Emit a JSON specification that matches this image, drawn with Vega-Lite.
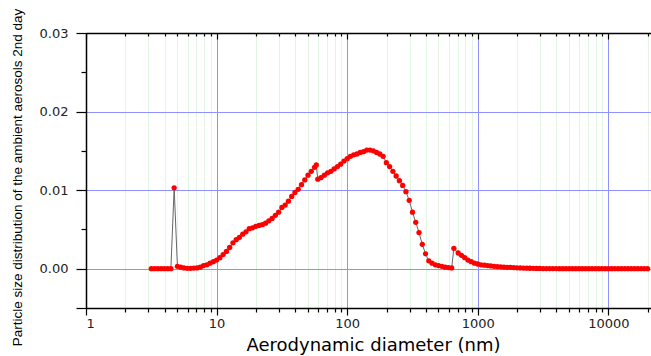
{
  "$schema": "https://vega.github.io/schema/vega-lite/v6.json",
  "width": 565,
  "height": 275,
  "autosize": "none",
  "padding": {"left": 86, "top": 33, "right": 0, "bottom": 48},
  "background": "white",
  "config": {
    "view": {"stroke": null},
    "axis": {
      "labelFont": "DejaVu Sans",
      "labelFontSize": 13,
      "labelColor": "#222",
      "titleFont": "DejaVu Sans",
      "titleColor": "black",
      "titleFontWeight": "normal",
      "domainColor": "black",
      "domainWidth": 1.5,
      "tickColor": "black",
      "tickWidth": 1.2
    }
  },
  "data": {
    "values": [
      {"d": 3.162, "v": 0}, {"d": 3.350, "v": 0}, {"d": 3.548, "v": 0}, {"d": 3.758, "v": 0},
      {"d": 3.981, "v": 0}, {"d": 4.217, "v": 0}, {"d": 4.467, "v": 0}, {"d": 4.732, "v": 0.0103},
      {"d": 5.012, "v": 0.0003}, {"d": 5.309, "v": 0.0002}, {"d": 5.623, "v": 0.0001}, {"d": 5.957, "v": 0.00005},
      {"d": 6.310, "v": 0.00005}, {"d": 6.683, "v": 0.00008}, {"d": 7.079, "v": 0.0001}, {"d": 7.499, "v": 0.0002},
      {"d": 7.943, "v": 0.0004}, {"d": 8.414, "v": 0.0005}, {"d": 8.913, "v": 0.0007}, {"d": 9.441, "v": 0.0009},
      {"d": 10.0, "v": 0.0011}, {"d": 10.59, "v": 0.0014}, {"d": 11.22, "v": 0.0018}, {"d": 11.89, "v": 0.0022},
      {"d": 12.59, "v": 0.0027}, {"d": 13.34, "v": 0.0033}, {"d": 14.13, "v": 0.0037}, {"d": 14.96, "v": 0.004},
      {"d": 15.85, "v": 0.0044}, {"d": 16.79, "v": 0.0047}, {"d": 17.78, "v": 0.0051}, {"d": 18.84, "v": 0.0052},
      {"d": 19.95, "v": 0.0054}, {"d": 21.14, "v": 0.0055}, {"d": 22.39, "v": 0.0056}, {"d": 23.71, "v": 0.0058},
      {"d": 25.12, "v": 0.0061}, {"d": 26.61, "v": 0.0064}, {"d": 28.18, "v": 0.0068}, {"d": 29.85, "v": 0.0072},
      {"d": 31.62, "v": 0.0078}, {"d": 33.50, "v": 0.0081}, {"d": 35.48, "v": 0.0086}, {"d": 37.58, "v": 0.0092},
      {"d": 39.81, "v": 0.0097}, {"d": 42.17, "v": 0.0101}, {"d": 44.67, "v": 0.0107}, {"d": 47.32, "v": 0.0113},
      {"d": 50.12, "v": 0.0119}, {"d": 53.09, "v": 0.0124}, {"d": 56.23, "v": 0.0129}, {"d": 58.0, "v": 0.0132},
      {"d": 59.57, "v": 0.0114}, {"d": 63.10, "v": 0.0116}, {"d": 66.83, "v": 0.0119}, {"d": 70.79, "v": 0.0122},
      {"d": 74.99, "v": 0.0124}, {"d": 79.43, "v": 0.0127}, {"d": 84.14, "v": 0.013}, {"d": 89.13, "v": 0.0133},
      {"d": 94.41, "v": 0.0137}, {"d": 100.0, "v": 0.014}, {"d": 105.9, "v": 0.0143}, {"d": 112.2, "v": 0.0145},
      {"d": 118.9, "v": 0.0146}, {"d": 125.9, "v": 0.0148}, {"d": 133.4, "v": 0.0149}, {"d": 141.3, "v": 0.0151},
      {"d": 149.6, "v": 0.0151}, {"d": 158.5, "v": 0.015}, {"d": 167.9, "v": 0.0148}, {"d": 177.8, "v": 0.0146},
      {"d": 188.4, "v": 0.0143}, {"d": 199.5, "v": 0.0135}, {"d": 211.3, "v": 0.013}, {"d": 223.9, "v": 0.0124},
      {"d": 237.1, "v": 0.0118}, {"d": 251.2, "v": 0.0112}, {"d": 266.1, "v": 0.0106}, {"d": 281.8, "v": 0.0098},
      {"d": 298.5, "v": 0.0087}, {"d": 316.2, "v": 0.0072}, {"d": 335.0, "v": 0.0059}, {"d": 354.8, "v": 0.0046},
      {"d": 375.8, "v": 0.0031}, {"d": 398.1, "v": 0.0019}, {"d": 421.7, "v": 0.001}, {"d": 446.7, "v": 0.0007},
      {"d": 473.2, "v": 0.0005}, {"d": 501.2, "v": 0.0004}, {"d": 530.9, "v": 0.0003}, {"d": 562.3, "v": 0.0002},
      {"d": 595.7, "v": 0.00015}, {"d": 631.0, "v": 0.0001}, {"d": 656.0, "v": 0.0026}, {"d": 707.9, "v": 0.002},
      {"d": 749.9, "v": 0.0017}, {"d": 794.3, "v": 0.0014}, {"d": 841.4, "v": 0.0011}, {"d": 891.3, "v": 0.0009},
      {"d": 944.1, "v": 0.0007}, {"d": 1000, "v": 0.0006}, {"d": 1059, "v": 0.0005}, {"d": 1122, "v": 0.00045},
      {"d": 1189, "v": 0.0004}, {"d": 1259, "v": 0.00035}, {"d": 1334, "v": 0.0003}, {"d": 1413, "v": 0.00027},
      {"d": 1496, "v": 0.00024}, {"d": 1585, "v": 0.0002}, {"d": 1679, "v": 0.00018}, {"d": 1778, "v": 0.00016},
      {"d": 1884, "v": 0.00014}, {"d": 1995, "v": 0.00012}, {"d": 2113, "v": 0.0001}, {"d": 2239, "v": 0.00008},
      {"d": 2371, "v": 0.00007}, {"d": 2512, "v": 0.00006}, {"d": 2661, "v": 0.00005}, {"d": 2818, "v": 0.00004},
      {"d": 2985, "v": 0.00003}, {"d": 3162, "v": 0.00002}, {"d": 3350, "v": 0.00002}, {"d": 3548, "v": 0.00002},
      {"d": 3758, "v": 0.00002}, {"d": 3981, "v": 0.00002}, {"d": 4217, "v": 0.00001}, {"d": 4467, "v": 0.00001},
      {"d": 4732, "v": 0.00001}, {"d": 5012, "v": 0.00001}, {"d": 5309, "v": 0}, {"d": 5623, "v": 0},
      {"d": 5957, "v": 0}, {"d": 6310, "v": 0}, {"d": 6683, "v": 0}, {"d": 7079, "v": 0},
      {"d": 7499, "v": 0}, {"d": 7943, "v": 0}, {"d": 8414, "v": 0}, {"d": 8913, "v": 0},
      {"d": 9441, "v": 0}, {"d": 10000, "v": 0}, {"d": 10593, "v": 0}, {"d": 11220, "v": 0},
      {"d": 11885, "v": 0}, {"d": 12589, "v": 0}, {"d": 13335, "v": 0}, {"d": 14125, "v": 0},
      {"d": 14962, "v": 0}, {"d": 15849, "v": 0}, {"d": 16788, "v": 0}, {"d": 17783, "v": 0},
      {"d": 18836, "v": 0}, {"d": 19953, "v": 0}
    ]
  },
  "resolve": {"axis": {"x": "independent", "y": "independent"}},
  "layer": [
    {
      "mark": {"type": "point", "opacity": 0},
      "encoding": {
        "x": {
          "field": "d", "type": "quantitative",
          "scale": {"type": "log", "domain": [1, 21200], "nice": false},
          "axis": {
            "orient": "bottom", "title": null, "labels": false, "domain": false,
            "grid": true, "gridColor": "#e2f5e2", "gridWidth": 1,
            "ticks": true, "tickSize": 4,
            "values": [2,3,4,5,6,7,8,9,20,30,40,50,60,70,80,90,200,300,400,500,600,700,800,900,2000,3000,4000,5000,6000,7000,8000,9000,20000]
          }
        },
        "y": {
          "field": "v", "type": "quantitative",
          "scale": {"domain": [-0.005, 0.03], "nice": false, "zero": false},
          "axis": {
            "orient": "left", "title": null, "labels": false, "domain": false, "grid": false,
            "ticks": true, "tickSize": 5, "values": [0.005, 0.015, 0.025]
          }
        }
      }
    },
    {
      "mark": {"type": "line", "color": "#666666", "strokeWidth": 1},
      "encoding": {
        "x": {
          "field": "d", "type": "quantitative",
          "scale": {"type": "log", "domain": [1, 21200], "nice": false},
          "axis": {
            "orient": "bottom", "title": "Aerodynamic diameter (nm)",
            "titleFontSize": 18, "titlePadding": 6, "titleX": 287,
            "values": [1, 10, 100, 1000, 10000], "format": "d",
            "grid": true, "gridColor": "#9090ff", "gridWidth": 1,
            "tickSize": 7, "labelPadding": 2, "domain": true
          }
        },
        "y": {
          "field": "v", "type": "quantitative",
          "scale": {"domain": [-0.005, 0.03], "nice": false, "zero": false},
          "axis": {
            "orient": "left",
            "title": "Particle size distribution of the ambient aerosols 2nd day",
            "titleFont": "Liberation Sans", "titleFontSize": 13.5, "titlePadding": 15, "titleY": 144,
            "values": [-0.005, 0, 0.01, 0.02, 0.03],
            "labelExpr": "datum.value < -0.001 ? '' : format(datum.value, '.2f')",
            "grid": true, "gridColor": "#9090ff", "gridWidth": 1,
            "tickSize": 10, "labelPadding": 8, "domain": true
          }
        }
      }
    },
    {
      "mark": {"type": "point", "filled": true, "color": "#ff0000", "size": 28, "opacity": 1},
      "encoding": {
        "x": {
          "field": "d", "type": "quantitative",
          "scale": {"type": "log", "domain": [1, 21200], "nice": false},
          "axis": {
            "orient": "top", "title": null, "labels": false, "domain": true, "grid": false,
            "tickSize": -3,
            "values": [2,3,4,5,6,7,8,9,20,30,40,50,60,70,80,90,200,300,400,500,600,700,800,900,2000,3000,4000,5000,6000,7000,8000,9000,20000]
          }
        },
        "y": {
          "field": "v", "type": "quantitative",
          "scale": {"domain": [-0.005, 0.03], "nice": false, "zero": false},
          "axis": null
        }
      }
    },
    {
      "mark": {"type": "point", "opacity": 0},
      "encoding": {
        "x": {
          "field": "d", "type": "quantitative",
          "scale": {"type": "log", "domain": [1, 21200], "nice": false},
          "axis": {
            "orient": "top", "title": null, "labels": false, "domain": false, "grid": false,
            "tickSize": -6, "values": [1, 10, 100, 1000, 10000]
          }
        },
        "y": {
          "field": "v", "type": "quantitative",
          "scale": {"domain": [-0.005, 0.03], "nice": false, "zero": false},
          "axis": null
        }
      }
    }
  ]
}
